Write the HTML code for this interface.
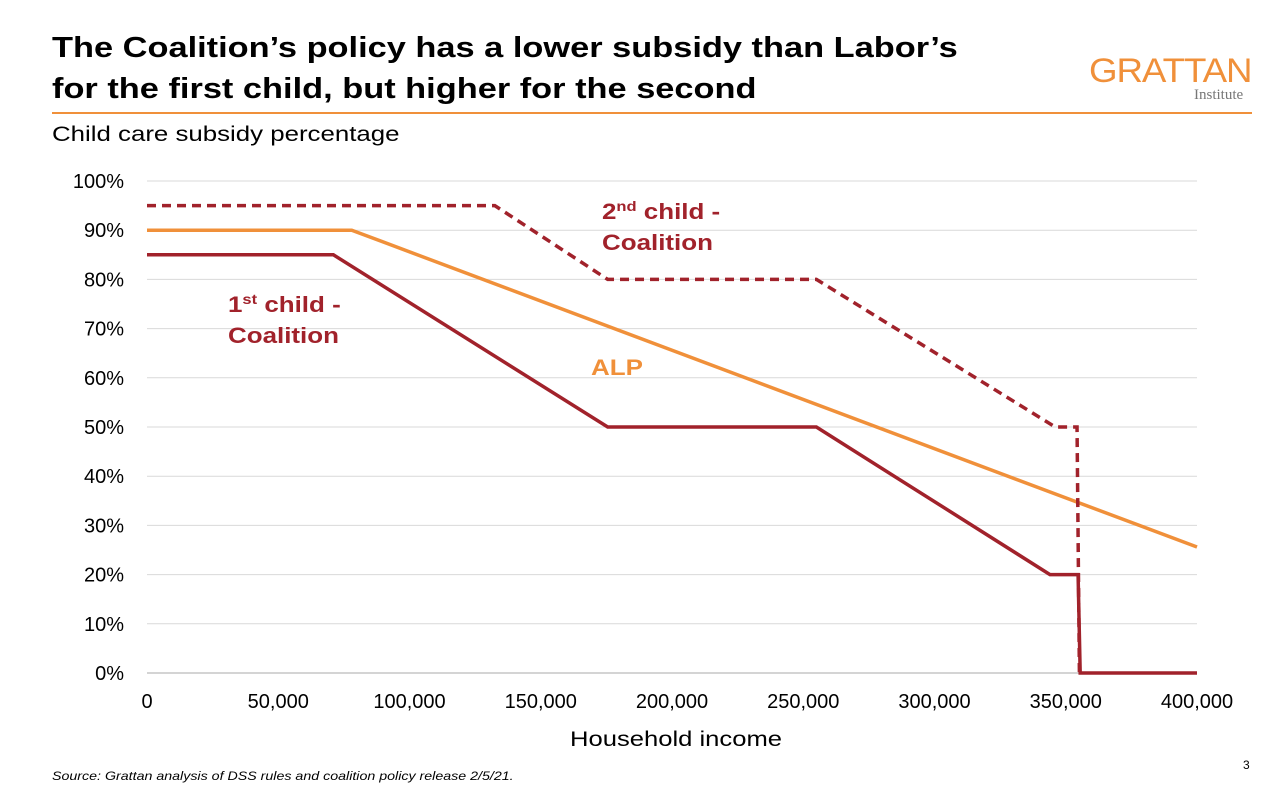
<!DOCTYPE html>
<html><head><meta charset="utf-8"><style>
body{margin:0;width:1272px;height:799px;background:#fff;font-family:"Liberation Sans",sans-serif;position:relative;overflow:hidden}
.t{position:absolute;white-space:nowrap;transform-origin:0 0}
</style></head><body>
<div class="t" style="left:52px;top:28px;font-size:29px;font-weight:bold;line-height:41px;color:#000;transform:scaleX(1.185)">The Coalition’s policy has a lower subsidy than Labor’s<br>for the first child, but higher for the second</div>
<div class="t" style="left:1089px;top:52px;font-size:34px;color:#f0903a;letter-spacing:-1px;transform:scaleX(1.08)">GRATTAN</div>
<div class="t" style="left:1194px;top:87px;font-size:15px;color:#777;font-family:'Liberation Serif',serif">Institute</div>
<div style="position:absolute;left:52px;top:112px;width:1200px;height:2px;background:#f0903a"></div>
<div class="t" style="left:52px;top:123px;font-size:21px;transform:scaleX(1.23)">Child care subsidy percentage</div>
<div class="t" style="left:52px;top:769px;font-size:12px;font-style:italic;transform:scaleX(1.185)">Source: Grattan analysis of DSS rules and coalition policy release 2/5/21.</div>
<div class="t" style="left:1243px;top:758px;font-size:12px">3</div>
<svg id="chart" width="1272" height="799" style="position:absolute;left:0;top:0" font-family="Liberation Sans, sans-serif"></svg>
<script>
const yTicks=[0,10,20,30,40,50,60,70,80,90,100];
const xTicks=[0,50000,100000,150000,200000,250000,300000,350000,400000];
const xTickLabels=["0","50,000","100,000","150,000","200,000","250,000","300,000","350,000","400,000"];
const alpX=[0,78000,400000];
const alpY=[90,90,25.6];
const c1X=[0,71000,175500,255000,344000,354700,355500,400000];
const c1Y=[85,85,50,50,20,20,0,0];
const c2X=[0,132500,175500,255000,346000,354300,355200];
const c2Y=[95,95,80,80,50,50,0];
const svg=document.getElementById('chart');
const NS='http://www.w3.org/2000/svg';
const X=v=>147+v/400000*1050, Y=v=>673-v/100*492;
function mk(t,a){const e=document.createElementNS(NS,t);for(const k in a)e.setAttribute(k,a[k]);svg.appendChild(e);return e;}
yTicks.forEach(v=>{
 if(v>0){const g=mk('line',{x1:147,x2:1197,y1:Y(v),y2:Y(v),stroke:'#d9d9d9','stroke-width':1});
 
 }
 const t=mk('text',{x:124,y:Y(v)+7,'text-anchor':'end','font-size':20});t.textContent=v+'%';
 
 
});
const ax=mk('line',{x1:147,x2:1197,y1:673,y2:673,stroke:'#aaa','stroke-width':1});


xTicks.forEach((v,i)=>{
 const t=mk('text',{x:X(v),y:708,'text-anchor':'middle','font-size':20});t.textContent=xTickLabels[i];
 
 
});
const xt=mk('text',{x:570,y:746,'font-size':21,textLength:212,lengthAdjust:'spacingAndGlyphs'});xt.textContent='Household income';


function line(xs,ys,col,dash,name){
 const p=mk('polyline',{points:xs.map((x,i)=>X(x)+','+Y(ys[i])).join(' '),fill:'none',stroke:col,'stroke-width':3.5,'stroke-dasharray':dash||'none'});
 
 
}
line(alpX,alpY,'#f0903a',null,'alp-line');
line(c1X,c1Y,'#a1222b',null,'coalition-first-child-line');
line(c2X,c2Y,'#a1222b','9,6','coalition-second-child-line');
function lab(x,y,html,col,name,w){const t=mk('text',{x:x,y:y,'font-size':22,'font-weight':'bold',fill:col,transform:`translate(${x},0) scale(1.18,1) translate(${-x},0)`});t.innerHTML=html;
 
 }
lab(228,312,'1<tspan font-size="14" dy="-8">st</tspan><tspan dy="8"> child -</tspan>','#a1222b','label-first-child');
lab(228,343,'Coalition','#a1222b','label-first-child-2');
lab(602,219,'2<tspan font-size="14" dy="-8">nd</tspan><tspan dy="8"> child -</tspan>','#a1222b','label-second-child');
lab(602,250,'Coalition','#a1222b','label-second-child-2');
lab(591,375,'ALP','#f0903a','label-alp');
</script>
</body></html>
